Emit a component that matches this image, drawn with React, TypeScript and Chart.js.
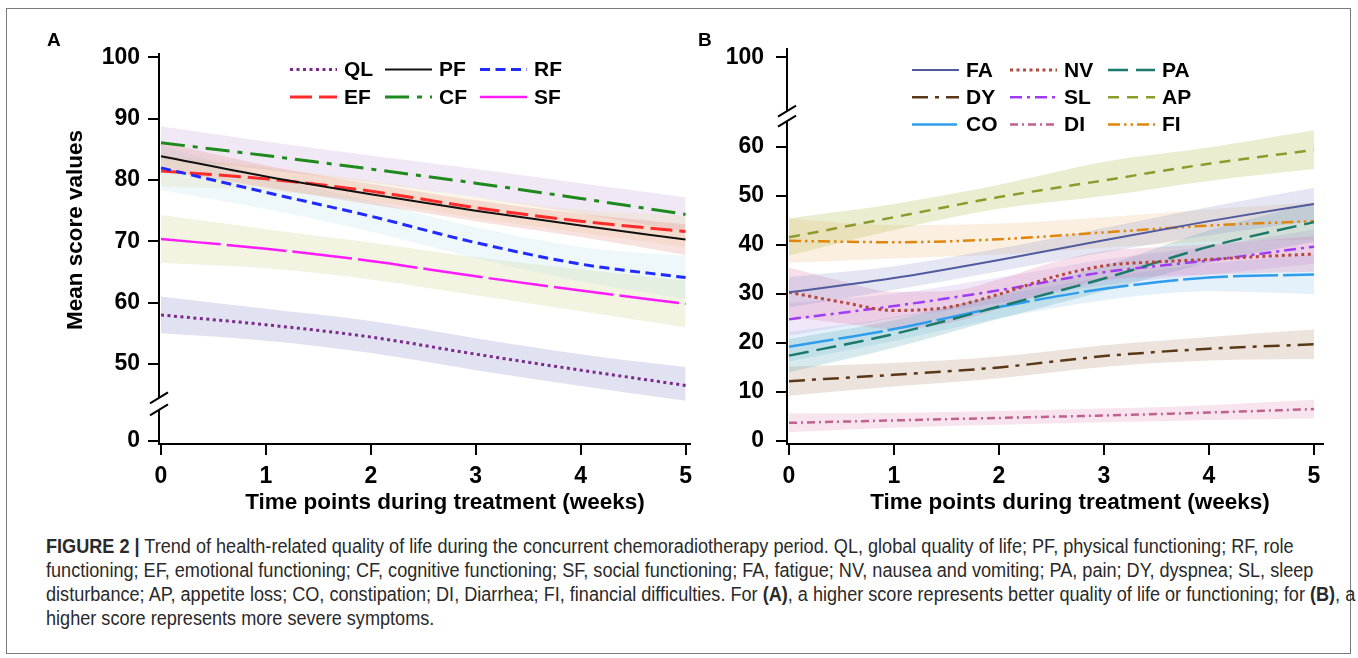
import React, { useEffect, useRef } from "react";
import { Chart, registerables } from "chart.js";

Chart.register(...registerables);

const FONT = "'Liberation Sans', Arial, Helvetica, sans-serif";
const CAPTION_FONT = "'Liberation Sans', Arial, Helvetica, sans-serif";

// ---------------- data ----------------
const WEEKS = [0, 1, 2, 3, 4, 5];
const NV_WEEKS = [0, 0.5, 1, 1.5, 2, 2.5, 3, 3.5, 4, 4.5, 5];
const X_TICKS = [0, 1, 2, 3, 4, 5];
const A_Y_TICKS = [0, 50, 60, 70, 80, 90, 100];
const B_Y_TICKS = [0, 10, 20, 30, 40, 50, 60, 100];

const A_NAMES = ["QL", "PF", "RF", "EF", "CF", "SF"];
const B_NAMES = ["FA", "NV", "PA", "DY", "SL", "AP", "CO", "DI", "FI"];

// Panel A: functioning scales
const QL = [58.0, 56.4, 54.4, 51.6, 49.0, 46.5];
const QL_LO = [55.0, 53.8, 51.8, 49.0, 46.4, 44.0];
const QL_HI = [61.0, 59.0, 57.0, 54.2, 51.6, 49.5];
const PF = [83.9, 80.6, 77.7, 75.0, 72.6, 70.3];
const PF_LO = [81.6, 78.8, 76.0, 73.3, 70.7, 67.8];
const PF_HI = [86.2, 82.4, 79.4, 76.7, 74.5, 72.8];
const RF = [82.0, 78.0, 74.1, 69.8, 66.3, 64.1];
const RF_LO = [78.4, 75.3, 71.6, 67.3, 63.5, 60.6];
const RF_HI = [85.6, 80.7, 76.6, 72.3, 69.1, 67.6];
const EF = [81.5, 80.2, 78.2, 75.5, 73.3, 71.6];
const EF_LO = [79.0, 78.3, 76.5, 73.8, 71.4, 69.0];
const EF_HI = [84.0, 82.1, 79.9, 77.2, 75.2, 74.2];
const CF = [86.1, 84.0, 81.8, 79.5, 77.0, 74.4];
const CF_LO = [83.4, 81.7, 79.6, 77.2, 74.5, 71.6];
const CF_HI = [88.8, 86.3, 84.0, 81.8, 79.5, 77.2];
const SF = [70.4, 68.8, 66.8, 64.3, 62.0, 59.8];
const SF_LO = [66.5, 65.6, 63.8, 61.2, 58.6, 56.0];
const SF_HI = [74.3, 72.0, 69.8, 67.4, 65.4, 63.6];

// Panel B: symptom scales
const FA = [30.3, 33.2, 36.9, 40.9, 44.8, 48.3];
const FA_LO = [27.2, 30.8, 34.6, 38.4, 41.9, 44.9];
const FA_HI = [33.4, 35.6, 39.2, 43.4, 47.7, 51.6];
const NV = [30.3, 28.3, 26.6, 27.2, 29.9, 33.3, 35.7, 36.5, 37.0, 37.6, 38.1];
const NV_LO = [25.3, 24.0, 22.8, 23.9, 26.9, 30.3, 32.7, 33.5, 33.9, 34.3, 34.5];
const NV_HI = [35.3, 32.6, 30.4, 30.5, 32.9, 36.3, 38.7, 39.5, 40.1, 40.9, 41.7];
const PA = [17.4, 21.8, 27.4, 33.1, 39.6, 44.6];
const PA_LO = [14.0, 19.0, 24.9, 30.5, 36.3, 40.6];
const PA_HI = [20.8, 24.6, 29.9, 35.7, 42.9, 48.6];
const DY = [12.2, 13.5, 15.0, 17.3, 18.8, 19.7];
const DY_LO = [9.2, 11.1, 12.8, 15.1, 16.4, 16.7];
const DY_HI = [15.2, 15.9, 17.2, 19.5, 21.2, 22.7];
const SL = [24.8, 27.5, 30.7, 34.4, 36.8, 39.6];
const SL_LO = [21.5, 25.0, 28.1, 31.8, 33.9, 36.1];
const SL_HI = [28.1, 30.0, 33.3, 37.0, 39.7, 43.1];
const AP = [41.5, 45.6, 49.7, 53.1, 56.5, 59.3];
const AP_LO = [37.8, 43.0, 47.3, 49.9, 53.0, 55.4];
const AP_HI = [45.4, 48.3, 52.2, 56.9, 59.8, 63.3];
const CO = [19.2, 22.8, 27.3, 31.0, 33.3, 33.9];
const CO_LO = [16.2, 20.4, 25.0, 28.7, 30.5, 29.9];
const CO_HI = [22.2, 25.2, 29.6, 33.3, 36.1, 37.9];
const DI = [3.7, 4.2, 4.7, 5.2, 5.8, 6.5];
const DI_LO = [1.8, 2.7, 3.3, 3.8, 4.3, 4.6];
const DI_HI = [5.6, 5.7, 6.1, 6.6, 7.3, 8.4];
const FI = [40.8, 40.5, 41.1, 42.5, 43.9, 44.8];
const FI_LO = [36.3, 37.2, 38.0, 39.4, 40.6, 41.0];
const FI_HI = [45.3, 44.0, 44.3, 45.6, 47.2, 48.6];

const SERIES: Record<string, { x: number[]; y: number[]; lo: number[]; hi: number[] }> = {
  QL: { x: WEEKS, y: QL, lo: QL_LO, hi: QL_HI },
  PF: { x: WEEKS, y: PF, lo: PF_LO, hi: PF_HI },
  RF: { x: WEEKS, y: RF, lo: RF_LO, hi: RF_HI },
  EF: { x: WEEKS, y: EF, lo: EF_LO, hi: EF_HI },
  CF: { x: WEEKS, y: CF, lo: CF_LO, hi: CF_HI },
  SF: { x: WEEKS, y: SF, lo: SF_LO, hi: SF_HI },
  FA: { x: WEEKS, y: FA, lo: FA_LO, hi: FA_HI },
  NV: { x: NV_WEEKS, y: NV, lo: NV_LO, hi: NV_HI },
  PA: { x: WEEKS, y: PA, lo: PA_LO, hi: PA_HI },
  DY: { x: WEEKS, y: DY, lo: DY_LO, hi: DY_HI },
  SL: { x: WEEKS, y: SL, lo: SL_LO, hi: SL_HI },
  AP: { x: WEEKS, y: AP, lo: AP_LO, hi: AP_HI },
  CO: { x: WEEKS, y: CO, lo: CO_LO, hi: CO_HI },
  DI: { x: WEEKS, y: DI, lo: DI_LO, hi: DI_HI },
  FI: { x: WEEKS, y: FI, lo: FI_LO, hi: FI_HI },
};

// ---------------- styles ----------------
const STYLE: Record<string, { color: string; dash: number[]; width: number; band: string }> = {
  QL: { color: "#7b2a8c", dash: [3, 3.5], width: 3, band: "rgba(120,125,190,0.22)" },
  PF: { color: "#111111", dash: [], width: 2, band: "rgba(220,110,100,0.2)" },
  RF: { color: "#1f2bff", dash: [10, 5.5], width: 3, band: "rgba(160,210,220,0.18)" },
  EF: { color: "#ff2a2a", dash: [22, 7], width: 3, band: "rgba(235,215,150,0.22)" },
  CF: { color: "#1e8a1e", dash: [24, 8, 5, 8], width: 3, band: "rgba(190,150,210,0.22)" },
  SF: { color: "#ff1aff", dash: [60, 6], width: 2.5, band: "rgba(195,200,120,0.22)" },
  FA: { color: "#525a9e", dash: [], width: 2, band: "rgba(130,140,205,0.22)" },
  NV: { color: "#b5483c", dash: [3, 3.5], width: 3, band: "rgba(215,110,160,0.22)" },
  PA: { color: "#1b7a6b", dash: [20, 8], width: 2.5, band: "rgba(70,160,175,0.22)" },
  DY: { color: "#5a3817", dash: [16, 7, 4, 7], width: 2.5, band: "rgba(160,120,80,0.2)" },
  SL: { color: "#a03cf5", dash: [12, 5, 3, 5], width: 2.5, band: "rgba(170,120,220,0.18)" },
  AP: { color: "#8c9c2c", dash: [11, 8], width: 2.5, band: "rgba(175,185,70,0.25)" },
  CO: { color: "#2e9ded", dash: [45, 5], width: 2.5, band: "rgba(120,180,230,0.2)" },
  DI: { color: "#c0628f", dash: [8, 4, 2, 4], width: 2.5, band: "rgba(220,130,180,0.22)" },
  FI: { color: "#e0860d", dash: [12, 4, 2.5, 4, 2.5, 4], width: 2.5, band: "rgba(235,175,105,0.2)" },
};

type PanelCfg = {
  left: number;
  w: number;
  h: number;
  pad: { left: number; top: number; right: number; bottom: number };
  yWidth: number;
  xHeight: number;
  names: string[];
  xMin: number;
  xMax: number;
  yMin: number;
  yMax: number;
  yTicks: number[];
  tickPos: (v: number) => number;
  breakValue: number;
  breakGap: number;
  yTickLen: number;
  yTickPad: number;
  legendCols: number[];
  legendRows: number[];
  xTitle: [number, number];
  yTitle: [number, number] | null;
  letter: string;
  letterPos: [number, number];
};

const X_TITLE = "Time points during treatment (weeks)";
const Y_TITLE = "Mean score values";

const PANEL_A: PanelCfg = {
  left: 0,
  w: 700,
  h: 530,
  pad: { left: 0, top: 54, right: 7, bottom: 0 },
  yWidth: 159,
  xHeight: 86,
  names: A_NAMES,
  xMin: -0.019,
  xMax: 5.038,
  yMin: 36.95,
  yMax: 100.57,
  yTicks: A_Y_TICKS,
  tickPos: (v) => (v === 0 ? 37.44 : v),
  breakValue: 43.5,
  breakGap: 12,
  yTickLen: 11,
  yTickPad: 8,
  legendCols: [290, 385, 480],
  legendRows: [69.5, 97],
  xTitle: [445, 503],
  yTitle: [76, 230],
  letter: "A",
  letterPos: [47, 41],
};

const PANEL_B: PanelCfg = {
  left: 690,
  w: 668,
  h: 530,
  pad: { left: 0, top: 49, right: 35, bottom: 0 },
  yWidth: 97,
  xHeight: 86,
  names: B_NAMES,
  xMin: -0.019,
  xMax: 5.086,
  yMin: -0.61,
  yMax: 79.87,
  yTicks: B_Y_TICKS,
  tickPos: (v) => (v === 100 ? 78.17 : v),
  breakValue: 66.2,
  breakGap: 10,
  yTickLen: 11,
  yTickPad: 12,
  legendCols: [222, 320, 418],
  legendRows: [70, 97.3, 124.5],
  xTitle: [380, 503],
  yTitle: null,
  letter: "B",
  letterPos: [8, 41],
};

function makeDecor(p: PanelCfg) {
  return {
    id: "decor" + p.letter,
    afterDraw(chart: any) {
      const ctx: CanvasRenderingContext2D = chart.ctx;
      const { left } = chart.chartArea;
      const ys = chart.scales.y;
      ctx.save();
      // axis break
      const yb = ys.getPixelForValue(p.breakValue);
      ctx.fillStyle = "#ffffff";
      ctx.fillRect(left - 3, yb - p.breakGap / 2, 6, p.breakGap);
      ctx.strokeStyle = "#000";
      ctx.lineWidth = 2;
      ctx.setLineDash([]);
      for (const s of [-1, 1]) {
        const cy = yb + (s * p.breakGap) / 2;
        ctx.beginPath();
        ctx.moveTo(left - 9, cy + 5.5);
        ctx.lineTo(left + 9, cy - 5.5);
        ctx.stroke();
      }
      // legend
      const nCols = p.legendCols.length;
      p.names.forEach((n, i) => {
        const st = STYLE[n];
        const x0 = p.legendCols[i % nCols];
        const y0 = p.legendRows[Math.floor(i / nCols)];
        ctx.strokeStyle = st.color;
        ctx.lineWidth = st.width;
        ctx.setLineDash(st.dash);
        ctx.beginPath();
        ctx.moveTo(x0, y0);
        ctx.lineTo(x0 + 47, y0);
        ctx.stroke();
        ctx.setLineDash([]);
        ctx.fillStyle = "#000";
        ctx.font = `bold 21px ${FONT}`;
        ctx.textAlign = "left";
        ctx.textBaseline = "middle";
        ctx.fillText(n, x0 + 54, y0 + 1);
      });
      // axis titles
      ctx.fillStyle = "#000";
      ctx.font = `bold 22.5px ${FONT}`;
      ctx.textAlign = "center";
      ctx.textBaseline = "middle";
      ctx.fillText(X_TITLE, p.xTitle[0], p.xTitle[1]);
      if (p.yTitle) {
        ctx.save();
        ctx.translate(p.yTitle[0], p.yTitle[1]);
        ctx.rotate(-Math.PI / 2);
        ctx.font = `bold 22.5px ${FONT}`;
        ctx.fillText(Y_TITLE, 0, 0);
        ctx.restore();
      }
      // panel letter
      ctx.font = `bold 19px ${FONT}`;
      ctx.textAlign = "left";
      ctx.textBaseline = "middle";
      ctx.fillText(p.letter, p.letterPos[0], p.letterPos[1]);
      ctx.restore();
    },
  };
}

function buildConfig(p: PanelCfg): any {
  const datasets: any[] = [];
  const pts = (xs: number[], ys: number[]) => xs.map((t, i) => ({ x: t, y: ys[i] }));
  p.names.forEach((n) => {
    const s = SERIES[n];
    const st = STYLE[n];
    datasets.push({
      label: n + " lower",
      data: pts(s.x, s.lo),
      borderColor: "rgba(0,0,0,0)",
      borderWidth: 0,
      pointRadius: 0,
      fill: false,
      cubicInterpolationMode: "monotone",
      order: 2,
    });
    datasets.push({
      label: n + " upper",
      data: pts(s.x, s.hi),
      borderColor: "rgba(0,0,0,0)",
      borderWidth: 0,
      pointRadius: 0,
      fill: "-1",
      backgroundColor: st.band,
      cubicInterpolationMode: "monotone",
      order: 2,
    });
  });
  p.names.forEach((n) => {
    const s = SERIES[n];
    const st = STYLE[n];
    datasets.push({
      label: n,
      data: pts(s.x, s.y),
      borderColor: st.color,
      borderWidth: st.width,
      borderDash: st.dash,
      borderCapStyle: "butt",
      pointRadius: 0,
      fill: false,
      cubicInterpolationMode: "monotone",
      order: 1,
    });
  });

  const tickFont = { family: FONT, size: 23, weight: "bold" as const };
  return {
    type: "line",
    data: { datasets },
    options: {
      animation: false,
      responsive: false,
      devicePixelRatio: 1,
      events: [],
      layout: { padding: p.pad },
      plugins: {
        legend: { display: false },
        tooltip: { enabled: false },
        filler: { drawTime: "beforeDatasetsDraw" },
      },
      scales: {
        x: {
          type: "linear",
          min: p.xMin,
          max: p.xMax,
          afterBuildTicks: (axis: any) => {
            axis.ticks = X_TICKS.map((v) => ({ value: v }));
          },
          afterFit: (axis: any) => {
            axis.height = p.xHeight;
          },
          grid: { drawOnChartArea: false, drawTicks: true, tickLength: 11, color: "#000", lineWidth: 2 },
          border: { display: true, color: "#000", width: 2 },
          ticks: {
            font: tickFont,
            color: "#000",
            padding: 8,
            maxRotation: 0,
            autoSkip: false,
            callback: (v: number) => String(v),
          },
        },
        y: {
          type: "linear",
          min: p.yMin,
          max: p.yMax,
          afterBuildTicks: (axis: any) => {
            axis.ticks = p.yTicks.map((v) => ({ value: p.tickPos(v), label: String(v) }));
          },
          afterFit: (axis: any) => {
            axis.width = p.yWidth;
          },
          grid: { drawOnChartArea: false, drawTicks: true, tickLength: p.yTickLen, color: "#000", lineWidth: 2 },
          border: { display: true, color: "#000", width: 2 },
          ticks: {
            font: tickFont,
            color: "#000",
            padding: p.yTickPad,
            autoSkip: false,
            callback: (v: number, i: number) => String(p.yTicks[i]),
          },
        },
      },
    },
    plugins: [makeDecor(p)],
  };
}

function Panel({ cfg }: { cfg: PanelCfg }) {
  const ref = useRef<HTMLCanvasElement>(null);
  useEffect(() => {
    if (!ref.current) return;
    const chart = new Chart(ref.current, buildConfig(cfg));
    return () => chart.destroy();
  }, [cfg]);
  return (
    <canvas
      ref={ref}
      width={cfg.w}
      height={cfg.h}
      style={{ position: "absolute", left: cfg.left, top: 0, width: cfg.w, height: cfg.h }}
    />
  );
}

const CAPTION_LINES: React.ReactNode[] = [
  <>
    <b>FIGURE 2 |</b> Trend of health-related quality of life during the concurrent chemoradiotherapy period. QL, global
    quality of life; PF, physical functioning; RF, role
  </>,
  <>
    functioning; EF, emotional functioning; CF, cognitive functioning; SF, social functioning; FA, fatigue; NV, nausea and
    vomiting; PA, pain; DY, dyspnea; SL, sleep
  </>,
  <>
    disturbance; AP, appetite loss; CO, constipation; DI, Diarrhea; FI, financial difficulties. For <b>(A)</b>, a higher
    score represents better quality of life or functioning; for <b>(B)</b>, a
  </>,
  <>higher score represents more severe symptoms.</>,
];
const CAPTION_Y = [546, 570, 594, 618];
const CAPTION_SCALE_X = 0.905;

export default function App() {
  return (
    <div style={{ position: "absolute", left: 0, top: 0, width: 1358, height: 658, background: "#fff", overflow: "hidden" }}>
      <div
        style={{
          position: "absolute",
          left: 6,
          top: 8,
          width: 1345,
          height: 646,
          border: "1px solid #7a7a7a",
          boxSizing: "border-box",
        }}
      />
      <Panel cfg={PANEL_A} />
      <Panel cfg={PANEL_B} />
      {CAPTION_LINES.map((line, i) => (
        <div
          key={i}
          style={{
            position: "absolute",
            left: 46,
            top: CAPTION_Y[i] - 12,
            height: 24,
            lineHeight: "24px",
            whiteSpace: "nowrap",
            fontFamily: CAPTION_FONT,
            fontSize: 20,
            color: "#2a2a2a",
            transform: `scaleX(${CAPTION_SCALE_X})`,
            transformOrigin: "0 50%",
          }}
        >
          {line}
        </div>
      ))}
    </div>
  );
}
